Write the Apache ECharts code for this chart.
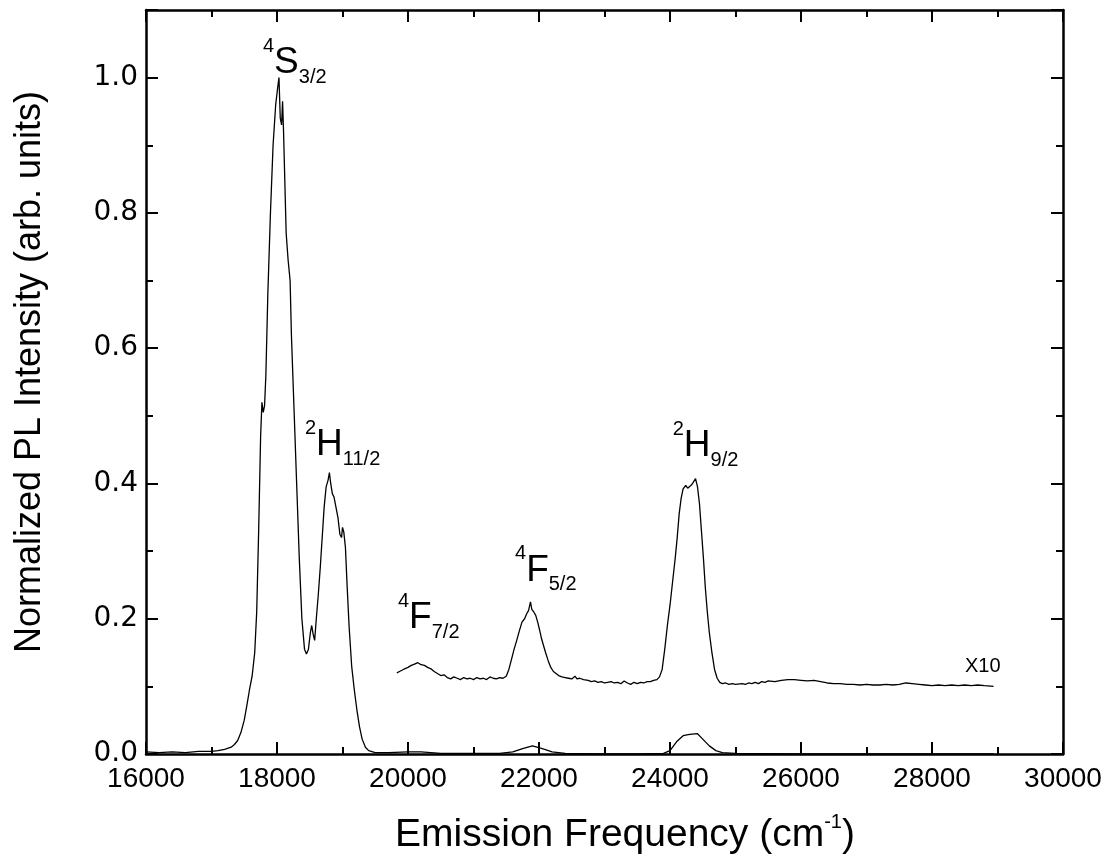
<!DOCTYPE html>
<html>
<head>
<meta charset="utf-8">
<script src="https://cdn.jsdelivr.net/npm/echarts@6/dist/echarts.min.js"></script>
<style>
  html, body { margin: 0; padding: 0; background: #fff; }
  #chart { width: 1113px; height: 868px; }
</style>
</head>
<body>
<div id="chart"></div>
<script>
// full-scale spectrum
var mainFreq = [16000, 16200, 16400, 16600, 16800, 17000, 17100, 17200, 17300, 17350, 17400, 17450, 17500, 17540, 17580, 17620, 17660, 17690, 17720, 17750, 17770, 17790, 17810, 17830, 17860, 17900, 17940, 17980, 18010, 18030, 18050, 18070, 18085, 18100, 18140, 18170, 18200, 18220, 18260, 18300, 18340, 18380, 18420, 18450, 18480, 18510, 18530, 18550, 18575, 18600, 18630, 18660, 18690, 18720, 18750, 18780, 18800, 18820, 18845, 18870, 18900, 18930, 18960, 18985, 19000, 19020, 19045, 19070, 19100, 19140, 19180, 19220, 19260, 19300, 19350, 19400, 19500, 19700, 20000, 20200, 20500, 21000, 21400, 21600, 21750, 21900, 22050, 22200, 22400, 23000, 23500, 23900, 24000, 24100, 24200, 24300, 24420, 24500, 24600, 24700, 24800, 25000, 26000, 27000, 28000, 28940];
var mainInt = [0.003, 0.002, 0.003, 0.002, 0.004, 0.004, 0.005, 0.007, 0.010, 0.014, 0.020, 0.032, 0.050, 0.072, 0.095, 0.115, 0.150, 0.210, 0.330, 0.470, 0.520, 0.505, 0.515, 0.560, 0.680, 0.800, 0.900, 0.960, 0.985, 1.000, 0.940, 0.930, 0.965, 0.920, 0.770, 0.730, 0.700, 0.620, 0.510, 0.400, 0.290, 0.200, 0.155, 0.148, 0.155, 0.180, 0.190, 0.178, 0.168, 0.200, 0.235, 0.275, 0.320, 0.365, 0.395, 0.405, 0.416, 0.400, 0.385, 0.380, 0.365, 0.350, 0.325, 0.320, 0.335, 0.328, 0.305, 0.250, 0.190, 0.130, 0.095, 0.065, 0.040, 0.022, 0.010, 0.005, 0.002, 0.002, 0.003, 0.003, 0.001, 0.001, 0.001, 0.003, 0.008, 0.012, 0.008, 0.003, 0.001, 0.000, 0.000, 0.001, 0.005, 0.018, 0.027, 0.029, 0.030, 0.022, 0.012, 0.005, 0.002, 0.001, 0.000, 0.000, 0.000, 0.000];

// x10 magnified trace (offset)
var zoomFreq = [19830, 19870, 19900, 19930, 19960, 20000, 20050, 20100, 20150, 20200, 20250, 20300, 20350, 20400, 20450, 20500, 20550, 20600, 20650, 20700, 20750, 20800, 20850, 20900, 20950, 21000, 21050, 21100, 21150, 21200, 21250, 21300, 21350, 21400, 21450, 21500, 21540, 21580, 21620, 21660, 21700, 21740, 21780, 21810, 21840, 21870, 21890, 21920, 21950, 21980, 22010, 22040, 22070, 22100, 22140, 22180, 22220, 22260, 22300, 22350, 22400, 22450, 22500, 22550, 22580, 22620, 22680, 22750, 22800, 22850, 22900, 22950, 23000, 23050, 23100, 23150, 23200, 23250, 23300, 23350, 23400, 23450, 23500, 23550, 23600, 23650, 23700, 23750, 23800, 23840, 23880, 23920, 23960, 24000, 24040, 24080, 24110, 24140, 24170, 24200, 24240, 24270, 24300, 24330, 24360, 24390, 24420, 24450, 24480, 24510, 24540, 24570, 24600, 24640, 24680, 24720, 24760, 24800, 24850, 24900, 24950, 25000, 25100, 25150, 25200, 25250, 25300, 25350, 25400, 25450, 25500, 25600, 25700, 25800, 25900, 26000, 26100, 26200, 26300, 26400, 26500, 26600, 26700, 26800, 26900, 27000, 27100, 27200, 27300, 27400, 27500, 27600, 27700, 27800, 27900, 28000, 28100, 28200, 28300, 28400, 28500, 28600, 28700, 28800, 28940];
var zoomInt = [0.120, 0.122, 0.121, 0.125, 0.123, 0.128, 0.131, 0.133, 0.135, 0.132, 0.131, 0.128, 0.126, 0.122, 0.119, 0.116, 0.117, 0.113, 0.111, 0.114, 0.112, 0.110, 0.113, 0.111, 0.112, 0.110, 0.113, 0.111, 0.112, 0.110, 0.114, 0.112, 0.111, 0.113, 0.112, 0.115, 0.125, 0.140, 0.155, 0.168, 0.182, 0.195, 0.200, 0.207, 0.212, 0.225, 0.214, 0.210, 0.205, 0.195, 0.183, 0.170, 0.160, 0.150, 0.138, 0.128, 0.122, 0.119, 0.116, 0.114, 0.113, 0.112, 0.111, 0.115, 0.111, 0.112, 0.110, 0.109, 0.107, 0.108, 0.106, 0.107, 0.105, 0.106, 0.107, 0.105, 0.106, 0.104, 0.108, 0.105, 0.103, 0.106, 0.104, 0.106, 0.105, 0.107, 0.107, 0.109, 0.110, 0.114, 0.125, 0.155, 0.190, 0.220, 0.255, 0.290, 0.320, 0.355, 0.378, 0.392, 0.397, 0.393, 0.395, 0.398, 0.400, 0.407, 0.395, 0.370, 0.330, 0.290, 0.245, 0.210, 0.180, 0.150, 0.125, 0.112, 0.106, 0.104, 0.105, 0.103, 0.104, 0.103, 0.104, 0.103, 0.105, 0.104, 0.106, 0.104, 0.107, 0.106, 0.108, 0.107, 0.109, 0.110, 0.110, 0.109, 0.108, 0.109, 0.107, 0.105, 0.104, 0.104, 0.103, 0.103, 0.102, 0.103, 0.102, 0.102, 0.103, 0.102, 0.103, 0.105, 0.104, 0.103, 0.102, 0.101, 0.102, 0.101, 0.102, 0.101, 0.102, 0.101, 0.102, 0.101, 0.100];

// transition labels
var annFreq = [17786, 18427, 19847, 21634, 24041, 28504];
var annInt = [1.031, 0.467, 0.211, 0.281, 0.465, 0.129];
var annText = [
  '{sup|4}{big|S}{sub|3/2}',
  '{sup|2}{big|H}{sub|11/2}',
  '{sup|4}{big|F}{sub|7/2}',
  '{sup|4}{big|F}{sub|5/2}',
  '{sup|2}{big|H}{sub|9/2}',
  '{small|X10}'
];

var xTicks = [16000, 30000, 2000];
var yTicks = [0, 1.1, 0.2];

var font = '"Liberation Sans", Arial, sans-serif';

function pairs(xs, ys) {
  return xs.map(function (x, i) { return [x, ys[i]]; });
}

var lineAxis = {
  show: true, onZero: false,
  lineStyle: { color: '#000', width: 2.5 }
};
var tick = { show: true, inside: true, length: 12, lineStyle: { color: '#000', width: 2 } };
var minor = { show: true, splitNumber: 2, length: 7, lineStyle: { color: '#000', width: 2 } };

function xAxisOf(pos, showLabel) {
  return {
    type: 'value', position: pos,
    min: xTicks[0], max: xTicks[1], interval: xTicks[2],
    axisLine: lineAxis, axisTick: tick, minorTick: minor,
    splitLine: { show: false },
    axisLabel: {
      show: showLabel, color: '#000', fontSize: 28, fontFamily: font, margin: 11,
      formatter: function (v) { return String(v); }
    }
  };
}
function yAxisOf(pos, showLabel) {
  return {
    type: 'value', position: pos,
    min: yTicks[0], max: yTicks[1], interval: yTicks[2],
    axisLine: lineAxis, axisTick: tick, minorTick: minor,
    splitLine: { show: false },
    axisLabel: {
      show: showLabel, color: '#000', fontSize: 28, fontFamily: '"DejaVu Sans", sans-serif', margin: 8,
      formatter: function (v) { return v > 1.05 ? '' : v.toFixed(1); }
    }
  };
}

var chart = echarts.init(document.getElementById('chart'));

chart.setOption({
  animation: false,
  backgroundColor: '#fff',
  grid: { left: 146, right: 50, top: 10, bottom: 114, containLabel: false },
  xAxis: [xAxisOf('bottom', true), xAxisOf('top', false)],
  yAxis: [yAxisOf('left', true), yAxisOf('right', false)],
  series: [
    {
      name: 'PL', type: 'line', xAxisIndex: 0, yAxisIndex: 0,
      symbol: 'none', data: pairs(mainFreq, mainInt),
      lineStyle: { color: '#000', width: 1.3 }
    },
    {
      name: 'PL x10', type: 'line', xAxisIndex: 0, yAxisIndex: 0,
      symbol: 'none', data: pairs(zoomFreq, zoomInt),
      lineStyle: { color: '#000', width: 1.3 }
    },
    {
      name: 'labels', type: 'scatter', xAxisIndex: 0, yAxisIndex: 0,
      symbolSize: 0, silent: true,
      itemStyle: { opacity: 1 },
      data: pairs(annFreq, annInt),
      label: {
        show: true, position: 'right', distance: 0, color: '#000', opacity: 1, fontFamily: font,
        formatter: function (p) { return annText[p.dataIndex]; },
        rich: {
          sup: { fontSize: 20, lineHeight: 20, verticalAlign: 'top', fontFamily: font, color: '#000' },
          big: { fontSize: 37, lineHeight: 40, verticalAlign: 'top', padding: [8, 0, 0, 0], fontFamily: font, color: '#000' },
          sub: { fontSize: 20, lineHeight: 20, verticalAlign: 'top', padding: [31, 0, 0, 0], fontFamily: font, color: '#000' },
          small: { fontSize: 20, lineHeight: 22, fontFamily: font, color: '#000' }
        }
      }
    }
  ],
  graphic: [
    {
      type: 'text', x: 30, y: 372, rotation: Math.PI / 2,
      style: {
        text: 'Normalized PL Intensity (arb. units)',
        fontSize: 36, fontFamily: font, fill: '#000',
        align: 'center', verticalAlign: 'middle'
      }
    },
    {
      type: 'text', x: 625, y: 835,
      style: {
        text: '{a|Emission Frequency (cm}{s|-1}{a|)}',
        align: 'center', verticalAlign: 'middle', fill: '#000',
        rich: {
          a: { fontSize: 39, lineHeight: 46, fontFamily: font, fill: '#000' },
          s: { fontSize: 20, lineHeight: 20, verticalAlign: 'top', fontFamily: font, fill: '#000' }
        }
      }
    }
  ]
});
</script>
</body>
</html>
